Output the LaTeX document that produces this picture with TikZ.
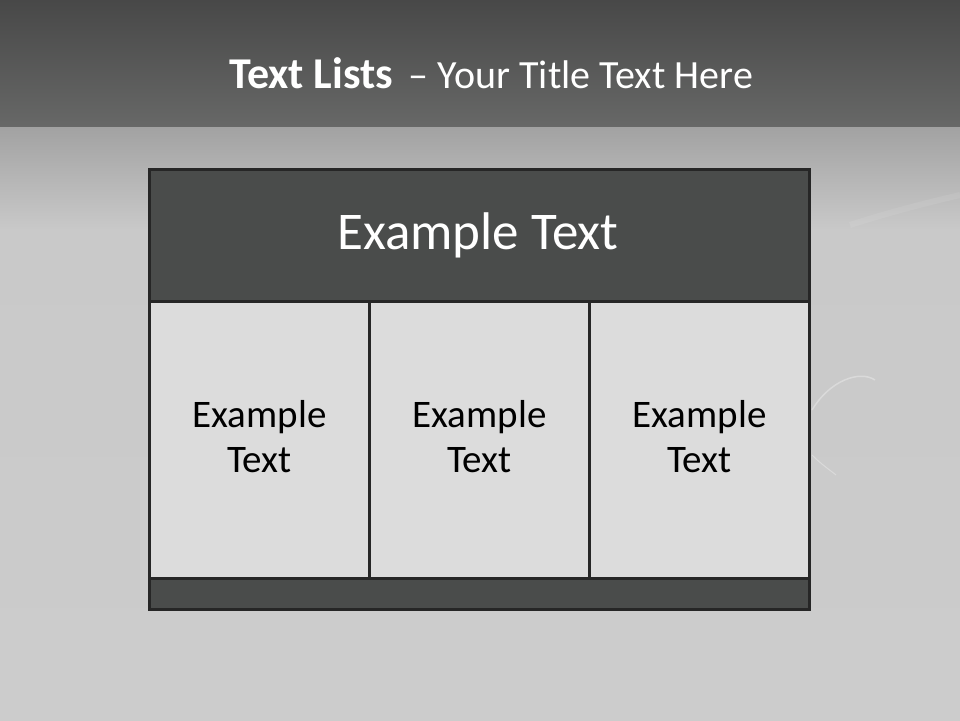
\documentclass[tikz,border=0pt]{standalone}
\usepackage{fontspec}
\setmainfont{Carlito}
\definecolor{bandtop}{HTML}{484848}
\definecolor{bandbot}{HTML}{676867}
\definecolor{fadetop}{HTML}{A2A2A2}
\definecolor{bgcol}{HTML}{C9C9C9}
\definecolor{darkfill}{HTML}{4A4C4B}
\definecolor{cellfill}{HTML}{DCDCDC}
\definecolor{edge}{HTML}{262626}
\begin{document}
\begin{tikzpicture}[x=1pt,y=-1pt,
  darkbox/.style={fill=darkfill,draw=edge,line width=3pt},
  cellbox/.style={fill=cellfill,draw=edge,line width=3pt},
  celltext/.style={font=\fontsize{39}{45}\selectfont,align=center,text=black},
  headtext/.style={font=\fontsize{53}{60}\selectfont,text=white,anchor=base}]
\useasboundingbox (0,0) rectangle (960,720);
% background
\fill[bgcol] (0,0) rectangle (960,720);
\shade[top color=bandtop,bottom color=bandbot] (0,0) rectangle (960,127);
\shade[top color=fadetop,bottom color=bgcol] (0,127) rectangle (960,230);
\shade[top color=bgcol,bottom color=bgcol!94!white] (0,229) rectangle (960,720);
% faint swirls
\draw[white,opacity=0.3,line width=1.5pt] (812,410) .. controls (830,380) and (860,370) .. (875,380);
\draw[white,opacity=0.3,line width=1pt] (812,455) .. controls (822,465) and (830,470) .. (836,475);
\draw[white,opacity=0.08,line width=6pt] (850,225) .. controls (890,212) and (930,202) .. (960,195);
% title
\node[anchor=base,text=white] (title) at (491,88) {\fontsize{44}{50}\selectfont\textbf{Text Lists}\fontsize{40}{48}\selectfont\ \,-- Your Title Text Here};
% table
\node[darkbox,minimum width=660pt,minimum height=132pt,inner sep=0pt,anchor=north west] (head) at (148,168) {};
\node[cellbox,minimum width=220pt,minimum height=277pt,inner sep=0pt,anchor=north west] (c1) at (148,300) {};
\node[cellbox,minimum width=220pt,minimum height=277pt,inner sep=0pt,anchor=north west] (c2) at (368,300) {};
\node[cellbox,minimum width=220pt,minimum height=277pt,inner sep=0pt,anchor=north west] (c3) at (588,300) {};
\node[darkbox,minimum width=660pt,minimum height=31pt,inner sep=0pt,anchor=north west] (foot) at (148,577) {};
% header text
\node[headtext] (headtxt) at (478,249) {Example Text};
% cell texts
\node[celltext,yshift=3pt] (t1) at (c1.center) {Example\\Text};
\node[celltext,yshift=3pt] (t2) at (c2.center) {Example\\Text};
\node[celltext,yshift=3pt] (t3) at (c3.center) {Example\\Text};
\end{tikzpicture}
\end{document}
